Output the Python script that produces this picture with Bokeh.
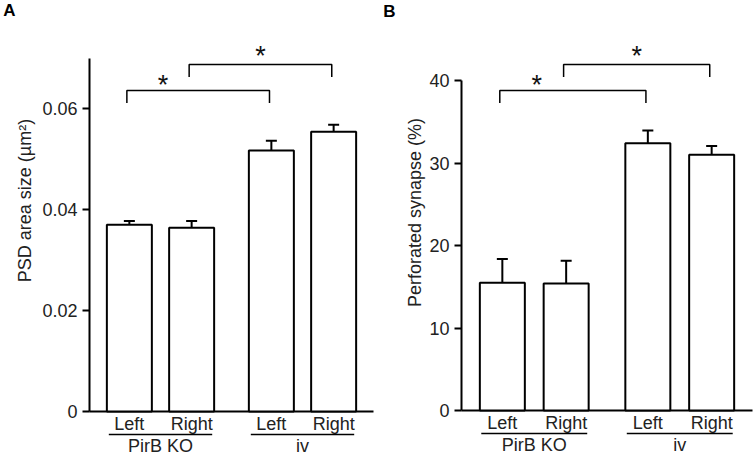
import math
from bokeh.plotting import figure
from bokeh.layouts import row
from bokeh.models import (Range1d, FixedTicker, NumeralTickFormatter,
                          Whisker, TeeHead, ColumnDataSource)
from bokeh.core.properties import value
from bokeh.embed import file_html
from bokeh.resources import INLINE

# ---------------- data ----------------
sides = ["Left", "Right", "Left", "Right"]
group_of_bar = [0, 0, 1, 1]
group_names = ["PirB KO", "iv"]

psd_mean = [0.0370, 0.0364, 0.0517, 0.0554]
psd_sem = [0.0007, 0.0013, 0.0019, 0.0014]

perf_mean = [15.5, 15.4, 32.4, 31.0]
perf_sem = [2.85, 2.75, 1.55, 1.05]

psd_ticks = [0, 0.02, 0.04, 0.06]
perf_ticks = [0, 10, 20, 30, 40]

sig_pairs = [(0, 2), (1, 3)]
sig_text = ["*", "*"]

# ---------------- layout constants ----------------
FONT = "Liberation Sans"
H = 455
X_AXIS, X_END = -0.64, 3.92
GROUP_GAP = 0.28
xs = [i + GROUP_GAP * g for i, g in enumerate(group_of_bar)]


def panel(origin, width, axis_px, right_px, zero_px, ppy, means, sems,
          ticks, y_top, bracket_px, ylabel, ylabel_c, letter_c, letter, fmt):
    ppx = (right_px - axis_px) / (X_END - X_AXIS)

    def dx(px):  # page px -> data x
        return X_AXIS + (px - axis_px) / ppx

    def dy(py):  # page px -> data y
        return (zero_px - py) / ppy

    p = figure(width=width, height=H,
               x_range=Range1d(dx(origin), dx(origin + width)),
               y_range=Range1d(dy(H), dy(0)), x_axis_location=None,
               output_backend="svg", toolbar_location=None,
               min_border_left=0, min_border_right=0,
               min_border_top=0, min_border_bottom=0,
               outline_line_color=None, background_fill_color="white")
    p.grid.visible = False

    ax = p.yaxis[0]
    ax.fixed_location = X_AXIS
    ax.ticker = FixedTicker(ticks=ticks)
    ax.formatter = NumeralTickFormatter(format=fmt)
    ax.bounds = (0, y_top)
    ax.axis_line_width = 2
    ax.axis_line_color = "black"
    ax.major_tick_line_width = 2
    ax.major_tick_line_color = "black"
    ax.major_tick_out = 7
    ax.major_tick_in = 0
    ax.minor_tick_line_color = None
    ax.major_label_standoff = 5
    ax.major_label_text_font = FONT
    ax.major_label_text_font_size = "18px"
    ax.major_label_text_color = "#222222"

    # baseline (x axis line)
    p.segment(x0=[X_AXIS], y0=[0], x1=[X_END], y1=[0],
              line_color="black", line_width=2)

    # bars
    p.vbar(x=xs, top=means, width=45 / ppx, bottom=0,
           fill_color="white", line_color="black", line_width=2)

    # error bars (upper only)
    src = ColumnDataSource(dict(x=xs, lower=means,
                                upper=[m + s for m, s in zip(means, sems)]))
    p.add_layout(Whisker(source=src, base="x", lower="lower", upper="upper",
                         dimension="height", line_color="black", line_width=2,
                         lower_head=None,
                         upper_head=TeeHead(size=11, line_width=2,
                                            line_color="black")))

    # significance brackets
    leg = 12.5 / ppy
    star_lift = [6, 9]
    for k, ((a, b), bpx) in enumerate(zip(sig_pairs, bracket_px)):
        by = dy(bpx)
        xa, xb = xs[a] - 0.04, xs[b] - 0.03
        p.line(x=[xa, xa, xb, xb], y=[by - leg, by, by, by - leg],
               line_color="black", line_width=1.5)
        sx = xa + 0.58 if k == 0 else (xa + xb) / 2
        p.text(x=[sx], y=[dy(bpx - star_lift[k])], text=[sig_text[k]],
               text_align="center", text_baseline="middle",
               text_font=value(FONT), text_font_size="27px",
               text_color="#111111")

    # category labels
    p.text(x=xs, y=[dy(zero_px + 12.5)] * 4, text=sides, text_align="center",
           text_baseline="middle", text_font=value(FONT),
           text_font_size="18px", text_color="#222222")
    for g, name in enumerate(group_names):
        members = [x for x, gg in zip(xs, group_of_bar) if gg == g]
        x0, x1 = min(members) - 0.33, max(members) + 0.33
        p.segment(x0=[x0], y0=[dy(zero_px + 23)], x1=[x1],
                  y1=[dy(zero_px + 23)], line_color="black", line_width=1.6)
        p.text(x=[(x0 + x1) / 2], y=[dy(zero_px + 34)], text=[name],
               text_align="center", text_baseline="middle",
               text_font=value(FONT), text_font_size="18px",
               text_color="#222222")

    # y-axis label
    p.text(x=[dx(ylabel_c[0])], y=[dy(ylabel_c[1])], text=[ylabel],
           angle=math.pi / 2, text_align="center", text_baseline="middle",
           text_font=value(FONT), text_font_size="18px", text_color="#222222")

    # panel letter
    p.text(x=[dx(letter_c[0])], y=[dy(letter_c[1])], text=[letter],
           text_align="center", text_baseline="middle",
           text_font=value(FONT), text_font_size="17px",
           text_font_style="bold", text_color="black")
    return p


pa = panel(0, 378, 89, 373, 411, 5050, psd_mean, psd_sem, psd_ticks, 0.07,
           [90, 64], "PSD area size (µm²)", (24, 200), (9, 10), "A",
           "0.[00]")
pb = panel(378, 377, 461, 752, 410, 8.25, perf_mean, perf_sem, perf_ticks,
           40, [90, 64], "Perforated synapse (%)", (414, 212), (389, 11), "B",
           "0")

layout = row(pa, pb)
open("out.html", "w").write(file_html(layout, INLINE))
